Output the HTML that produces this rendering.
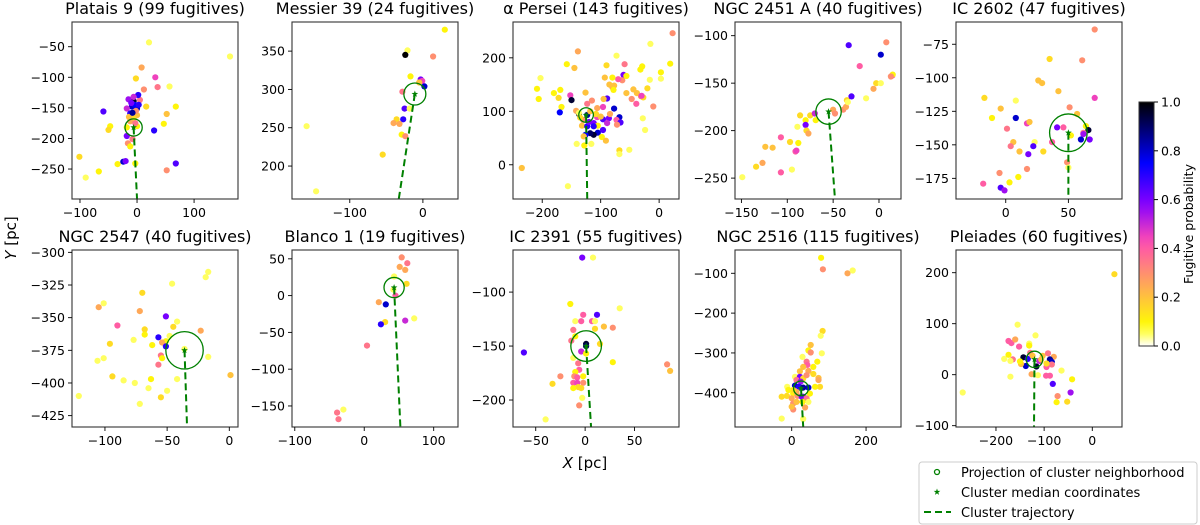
<!DOCTYPE html>
<html><head><meta charset="utf-8"><style>
html,body{margin:0;padding:0;background:#fff;}
svg{display:block;font-family:"DejaVu Sans","Liberation Sans",sans-serif;}
</style></head><body>
<svg id="fig" width="1200" height="525" viewBox="0 0 1200 525" xmlns="http://www.w3.org/2000/svg">
<defs>
<linearGradient id="cmap" x1="0" y1="1" x2="0" y2="0"></linearGradient>
</defs>
</svg>
<script>
// ---- data ----
const titles = ["Platais 9 (99 fugitives)","Messier 39 (24 fugitives)","α Persei (143 fugitives)","NGC 2451 A (40 fugitives)","IC 2602 (47 fugitives)","NGC 2547 (40 fugitives)","Blanco 1 (19 fugitives)","IC 2391 (55 fugitives)","NGC 2516 (115 fugitives)","Pleiades (60 fugitives)"];
const xTicks = [[-100,0,100],[-100,0],[-200,-100,0],[-150,-100,-50,0],[0,50],[-100,-50,0],[-100,0,100],[-50,0,50],[0,200],[-200,-100,0]];
const yTicks = [[-50,-100,-150,-200,-250],[200,250,300,350],[0,100,200],[-100,-150,-200,-250],[-75,-100,-125,-150,-175],[-300,-325,-350,-375,-400,-425],[50,0,-50,-100,-150],[-100,-150,-200],[-100,-200,-300,-400],[200,100,0,-100]];
const xDomains = [[-114,177],[-179,48],[-250,34],[-157,24],[-39.7,92.8],[-126.5,7],[-104,135],[-73,95],[-152.5,294],[-283,61.7]];
const yDomains = [[-299,-9.6],[157,388],[-64,267],[-272,-85.6],[-190.4,-58.4],[-433.7,-298.2],[-178.6,62],[-225,-61],[-486,-41.5],[-102.6,244.5]];
// cluster median (star), neighbourhood radius (x units), trajectory end
const starX = [-6,-11,-125,-55,50,-36,43,1,25,-120];
const starY = [-182,294,93,-180,-141,-375,11,-150,-389,30];
const nbR = [15,15,12.5,13.8,15,15,14.5,15.5,20,17];
const trajEndX = [0,-33,-123,-48,50,-34,52,6,31,-121];
const trajEndY = [-299,157,-64,-272,-190,-433,-178,-225,-486,-102];

const p1X=[21,163,8,-2,32,36,12,57,68,-59,16,-6,-9,0,-18,-12,0,-6,5,2,-15,52,47,30,-47,-50,-18,0,-18,-16,-12,-8,-101,-90,-67,-34,-24,-20,-3,52,68,-4,-10,-2,-14,3,-8,-6,-12,-3];
const p1Y=[-43,-66,-84,-102,-100,-116,-120,-115,-148,-156,-148,-139,-148,-151,-151,-159,-162,-167,-137,-129,-136,-160,-176,-187,-180,-186,-182,-180,-196,-208,-213,-201,-230,-264,-254,-242,-238,-237,-241,-252,-241,-145,-142,-155,-165,-145,-158,-132,-172,-175];
const p1P=[.05,.05,.25,.15,.45,.35,.3,.05,.1,.65,.15,.95,.8,.8,.5,.7,.2,.15,.35,.7,.55,.2,.1,.7,.1,.15,.1,.1,.6,.3,.1,.35,.15,.05,.1,.1,.8,.6,.1,.3,.65,.75,.6,.3,.2,.7,.85,.5,.25,.35];
const p2X=[30,14,-21,-24,-17,-3,-1,2,-5,-28,-25,-18,-27,-36,-40,-32,-29,-24,-55,-159,-146];
const p2Y=[378,343,351,345,317,313,311,304,309,297,275,275,261,261,256,255,241,239,215,252,167];
const p2P=[.1,.3,.05,1,.1,.6,.45,.8,.2,.35,.65,.05,.7,.15,.25,.25,.1,.3,.15,.05,.05];
const p3X=[23,-15,19,-29,-32,3,-16,3,-20,-44,-38,-31,-27,-30,-39,-10,-47,-28,-24,-59,-73,-90,-61,-56,-63,-70,-80,-93,-89,-95,-80,-77,-85,-56,-78,-139,-145,-158,-203,-209,-206,-180,-169,-172,-167,-152,-150,-126,-123,-115,-170,-142,-137,-123,-106,-96,-77,-68,-112,-96,-86,-73,-66,-72,-105,-112,-118,-126,-132,-105,-96,-89,-123,-112,-106,-98,-91,-116,-129,-128,-141,-68,-68,-51,-235,-156,-137,-118,-108,-130,-100,-84,-120,-135];
const p3Y=[246,226,189,184,178,173,159,161,143,141,134,128,126,129,114,109,123,87,65,188,204,186,168,166,158,160,163,163,124,123,145,148,150,134,140,212,181,188,162,142,123,134,140,125,108,130,121,135,114,120,98,101,95,93,106,108,105,89,78,85,87,84,79,75,60,56,59,56,73,73,65,78,72,72,89,52,45,39,53,36,39,27,20,28,-6,-40,97,100,95,84,90,95,80,88];
const p3P=[.3,.05,.1,.1,.1,.1,.05,.05,.15,.2,.2,.3,.15,.45,.4,.3,.3,.05,.05,.35,.05,.15,.6,.1,.3,.4,.1,.2,.65,.2,.25,.2,.2,.2,.1,.25,.2,.1,.05,.1,.1,.1,.1,.15,.1,.45,.95,.2,.35,.3,.75,.25,.95,.85,.25,.45,.8,.8,.6,.65,.6,.4,.65,.3,.8,.95,.9,.75,.2,.1,.65,.5,.7,.7,.45,.1,.2,.05,.2,.1,.05,.15,.05,.05,.2,.05,.05,.2,.15,.3,.2,.25,.6,.15];
const p4X=[-149,-134,-127,-124,-116,-107,-107,-97,-95,-88,-91,-90,-89,-86,-80,-80,-79,-77,-75,-70,-69,-50,-48,-39,-36,-35,-34,-30,-33,-21,-14,-6,-3,2,2,8,14.5,15,13];
const p4Y=[-249,-238,-234,-217,-218,-207,-244,-212,-241,-213,-222,-221,-196,-184,-189,-194,-200,-203,-184,-182,-189,-178,-182,-178,-175,-168,-170,-164,-110,-132,-166,-156,-150,-150,-120,-107,-142,-141,-143];
const p4P=[.05,.15,.25,.2,.2,.4,.4,.15,.05,.1,.4,.45,.05,.15,.1,.6,.15,.25,.15,.5,.1,.25,.3,.3,.25,.15,.05,.65,.65,.4,.05,.25,.15,.05,.8,.3,.45,.1,.3];
const p5X=[71,61,35,26,29,42,71,-17,8,-11,-4,8,1,17,19,51,57,41,46,64,66,62,62,60,67,52,37,6,4,23,22,30,11,18,49,50,17,10,3,-5,-18,-4,-1];
const p5Y=[-64,-87,-86,-102,-104,-110,-115,-115,-117,-130,-123,-130,-138,-134,-133,-122,-127,-137,-137,-136,-139,-141,-142,-146,-146,-143,-148,-148,-151,-148,-151,-155,-155,-157,-163,-167,-168,-174,-178,-171,-179,-182,-184];
const p5P=[.3,.3,.15,.2,.2,.2,.45,.15,.05,.1,.2,.8,.35,.45,.2,.3,.2,.6,.4,.1,.95,.35,.55,.8,.6,.1,.4,.2,.35,.05,.65,.15,.2,.6,.3,.05,.3,.1,.1,.3,.4,.65,.55];
const b1X=[-17,-19,-46,-70,-101,-105,-72,-51,-90,-42,-45,-68,-23,-68,-48,-57,-51,-54,-77,-62,-96,-51,-36,-17,-106,-101,-55,-54,-57,-94,1,-85,-63,-42,-76,-65,-50,-55,-121,-72];
const b1Y=[-315,-319,-324,-331,-339,-342,-345,-349,-356,-353,-357,-359,-360,-363,-364,-365,-368,-369,-367,-371,-370,-372,-374,-380,-383,-381,-379,-381,-386,-395,-394,-398,-397,-397,-400,-404,-406,-411,-410,-416];
const b1P=[.05,.05,.05,.15,.05,.25,.25,.6,.4,.05,.15,.15,.25,.1,.05,.7,.1,.25,.05,.1,.15,.7,.05,.05,.05,.05,.35,.1,.35,.15,.2,.05,.1,.05,.05,.05,.05,.15,.05,.05];
const b2X=[54,62,51,59,43,61,42,45,21,31,30,59,72,24,4,-39,-30,-37];
const b2Y=[52,44,39,35,26,16,8,0,-9,-12,-36,-34,-31,-39,-68,-159,-155,-168];
const b2P=[.3,.35,.25,.25,.05,.15,.05,.4,.25,.8,.15,.5,.05,.7,.35,.35,.05,.35];
const b3X=[-3,8,-15,35,-2,12,-10,-4,7,10,19,28,10,-12,-10,-14,15,1,1,-62,-4,1,28,-12,-7,83,86,-6,-10,-2,-11,-25,-8,-33,-12,-8,-2,-7,-12,-4,-3,-6,-40];
const b3Y=[-68,-68,-111,-115,-121,-121,-127,-127,-127,-127,-132,-133,-134,-135,-141,-145,-148,-148,-150,-156,-155,-157,-165,-161,-166,-167,-173,-172,-174,-178,-178,-178,-179,-185,-184,-184,-184,-188,-189,-189,-198,-205,-218];
const b3P=[.6,.05,.1,.05,.4,.65,.05,.4,.4,.05,.2,.3,.15,.35,.1,.35,.15,.95,.9,.65,.5,.1,.1,.05,.35,.3,.2,.4,.1,.1,.3,.3,.4,.15,.4,.45,.3,.15,.1,.15,.05,.3,.05];
const b4X=[79,84,150,164,83,78,51,45,51,81,29,69,40,42,31,58,45,22,9,72,72,58,22,13,31,40,24,-12,9,20,45,31,76,63,-13,4,16,27,31,40,13,4,49,0,4,13,36,4,29,45,-27,31,0,-27,-9];
const b4Y=[-61,-90,-100,-93,-245,-257,-280,-294,-299,-301,-310,-322,-322,-330,-335,-335,-345,-346,-360,-363,-368,-353,-360,-368,-364,-356,-372,-385,-382,-385,-387,-387,-385,-385,-408,-402,-408,-410,-410,-414,-398,-393,-402,-414,-427,-423,-437,-442,-423,-423,-465,-466,-435,-410,-393];
const b4P=[.1,.3,.25,.05,.15,.05,.2,.1,.3,.05,.05,.1,.35,.4,.2,.1,.25,.2,.05,.2,.25,.15,.6,.35,.15,.3,.55,.05,.8,.7,.8,.85,.15,.1,.15,.1,.3,.6,.6,.35,.25,.15,.1,.25,.3,.2,.25,.3,.1,.05,.05,.05,.2,.15,.1];
const b5X=[46,-269,-155,-118,-174,-168,-160,-152,-131,-131,-183,-174,-165,-170,-143,-134,-138,-148,-150,-129,-124,-103,-92,-80,-88,-84,-84,-95,-116,-110,-95,-106,-126,-113,-96,-88,-64,-82,-170,-42,-72,-74,-52,-45];
const b5Y=[197,-35,98,77,66,62,69,55,61,57,31,39,30,27,34,31,17,21,26,43,37,37,42,35,30,25,20,15,16,27,22,30,1,-1,-2,-2,8,-18,-4,-9,-42,-54,-53,-35];
const b5P=[.15,.05,.05,.05,.4,.4,.25,.4,.05,.1,.05,.1,.35,.05,.95,.7,.8,.2,.1,.35,.2,.2,.35,.25,.85,.8,.35,.4,.95,.5,.15,.2,.25,.05,.4,.4,.05,.65,.05,.1,.3,.1,.15,.55];
const ptsX=[p1X,p2X,p3X,p4X,p5X,b1X,b2X,b3X,b4X,b5X];
const ptsY=[p1Y,p2Y,p3Y,p4Y,p5Y,b1Y,b2Y,b3Y,b4Y,b5Y];
const ptsP=[p1P,p2P,p3P,p4P,p5P,b1P,b2P,b3P,b4P,b5P];
const cbTicks=[0.0,0.2,0.4,0.6,0.8,1.0];

// ---- layout ----
const boxLeft=[72,292,513,735,956];
const BW=166, rowTop=[22,250], BH=177;
const NS='http://www.w3.org/2000/svg';
const svg=document.getElementById('fig');
function mk(tag,attrs,parent){const e=document.createElementNS(NS,tag);for(const k in attrs)e.setAttribute(k,attrs[k]);(parent||svg).appendChild(e);return e;}
function clip(v){return Math.max(0,Math.min(1,v));}
function cmap(p){const x=1-p;
 const r=clip(x/0.32-0.78125), g=clip(2*x-0.84);
 const b=clip(x<0.25?4*x:(x<0.42?1:(x<0.92?-2*x+1.84:x/0.08-11.5)));
 return 'rgb('+Math.round(r*255)+','+Math.round(g*255)+','+Math.round(b*255)+')';}
function starPts(cx,cy,R){let s='';for(let i=0;i<10;i++){const a=-Math.PI/2+i*Math.PI/5;const r=i%2?R*0.4:R;s+=(cx+r*Math.cos(a)).toFixed(2)+','+(cy+r*Math.sin(a)).toFixed(2)+' ';}return s;}

for(let i=0;i<10;i++){
 const L=boxLeft[i%5], T=rowTop[Math.floor(i/5)];
 const xd=xDomains[i], yd=yDomains[i];
 const sx=v=>L+(v-xd[0])/(xd[1]-xd[0])*BW;
 const sy=v=>T+BH-(v-yd[0])/(yd[1]-yd[0])*BH;
 const g=mk('g',{});
 
 
 const cp=mk('clipPath',{id:'cp'+i},g); mk('rect',{x:L,y:T,width:BW,height:BH},cp);
 const t=mk('text',{x:L+BW/2,y:T-8,'text-anchor':'middle','font-size':'16',fill:'#000'},g);
 t.textContent=titles[i];
 
 
 const dg=mk('g',{'clip-path':'url(#cp'+i+')'},g);
 const X=ptsX[i],Y=ptsY[i],P=ptsP[i];
 for(let j=0;j<X.length;j++){
  const c=mk('circle',{cx:sx(X[j]).toFixed(1),cy:sy(Y[j]).toFixed(1),r:3.1,fill:cmap(P[j])},dg);
  
  
 }
 const ln=mk('line',{x1:sx(starX[i]),y1:sy(starY[i]),x2:sx(trajEndX[i]),y2:sy(trajEndY[i]),stroke:'#008000','stroke-width':2,'stroke-dasharray':'7,4'},dg);
 
 
 const rpx=nbR[i]*BW/(xd[1]-xd[0]);
 const ci=mk('circle',{cx:sx(starX[i]),cy:sy(starY[i]),r:rpx.toFixed(1),fill:'none',stroke:'#008000','stroke-width':1.3},dg);
 
 
 const st=mk('polygon',{points:starPts(sx(starX[i]),sy(starY[i]),3.5),fill:'#008000'},dg);
 
 
 const fr=mk('rect',{x:L,y:T,width:BW,height:BH,fill:'none',stroke:'#333','stroke-width':1.1},g);
 
 
 xTicks[i].forEach(v=>{const x=sx(v);mk('line',{x1:x,y1:T+BH,x2:x,y2:T+BH+4,stroke:'#000','stroke-width':0.9},g);
  const tx=mk('text',{x:x,y:T+BH+18,'text-anchor':'middle','font-size':'12.5',fill:'#000'},g);tx.textContent=String(v).replace('-','−');
  
  });
 yTicks[i].forEach(v=>{const y=sy(v);mk('line',{x1:L-4,y1:y,x2:L,y2:y,stroke:'#000','stroke-width':0.9},g);
  const ty=mk('text',{x:L-7,y:y+4.5,'text-anchor':'end','font-size':'12.5',fill:'#000'},g);ty.textContent=String(v).replace('-','−');
  
  });
}

// colorbar
const CBX=1139,CBT=102,CBB=346,CBW=15;
const grad=document.getElementById('cmap');
for(let k=0;k<=20;k++){mk('stop',{offset:(k/20),'stop-color':cmap(k/20)},grad);}
const cb=mk('rect',{x:CBX,y:CBT,width:CBW,height:CBB-CBT,fill:'url(#cmap)',stroke:'#333','stroke-width':1});


cbTicks.forEach(v=>{const y=CBB-v*(CBB-CBT);mk('line',{x1:CBX+CBW,y1:y,x2:CBX+CBW+4,y2:y,stroke:'#000'});
 const t=mk('text',{x:CBX+CBW+7,y:y+4.5,'font-size':'12.5'});t.textContent=v.toFixed(1);
 
 });
const cbl=mk('text',{x:0,y:0,'font-size':'12.5','text-anchor':'middle',transform:'translate(1193,224) rotate(-90)'});
cbl.textContent='Fugitive probability';



// axis labels
const yl=mk('text',{x:0,y:0,'font-size':'15','text-anchor':'middle',transform:'translate(16,238) rotate(-90)'});
yl.innerHTML='<tspan font-style="italic">Y</tspan> [pc]';


const xl=mk('text',{x:585,y:468,'font-size':'15','text-anchor':'middle'});
xl.innerHTML='<tspan font-style="italic">X</tspan> [pc]';



// legend
const lg=mk('g',{});


mk('rect',{x:919,y:462,width:278,height:62,rx:3,fill:'#fff',stroke:'#ccc'},lg);
mk('circle',{cx:937,cy:472,r:2.5,fill:'none',stroke:'#008000','stroke-width':1.3},lg);
mk('polygon',{points:starPts(937,492,3.5),fill:'#008000'},lg);
mk('line',{x1:924,y1:512,x2:951,y2:512,stroke:'#008000','stroke-width':2,'stroke-dasharray':'7,4'},lg);
[['Projection of cluster neighborhood',477],['Cluster median coordinates',497],['Cluster trajectory',517]].forEach(d=>{
 const t=mk('text',{x:961,y:d[1],'font-size':'13'},lg);t.textContent=d[0];
 
 });
</script>
</body></html>
